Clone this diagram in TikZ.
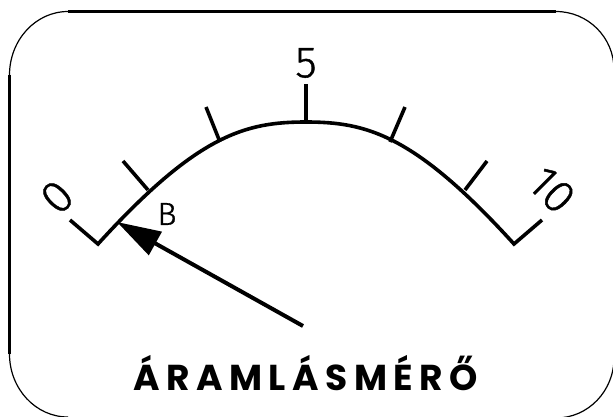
\documentclass[tikz,border=0pt]{standalone}
\usepackage{fontspec}
\setmainfont[RawFeature={embolden=0.9}]{Fira Sans Light}
\newfontfamily\titlefont[LetterSpace=18]{Poppins Bold}
\usetikzlibrary{arrows.meta}

\begin{document}
\begin{tikzpicture}[x=1pt, y=-1pt,
        frame/.style = {line width=3pt},
        corner/.style = {line width=1.2pt},
        scaleline/.style = {line width=3.6pt},
        tick/.style = {line width=3.6pt},
        digit/.style = {inner sep=0pt, font=\fontsize{#1}{#1}\selectfont},
        pointer/.style = {line width=4pt, -{Triangle[length=44pt, width=26pt]}}]
    \useasboundingbox (0,0) rectangle (613,416);

    % frame
    \draw[frame] (9.5,75) -- (9.5,354);
    \draw[frame] (68,11.5) -- (556,11.5);
    \draw[corner] (9.5,75) arc[start angle=180, end angle=270, x radius=58.5, y radius=63.5];
    \draw[corner] (556,11.5) arc[start angle=-90, end angle=0, x radius=58, y radius=58];
    \draw[corner] (9.5,354) arc[start angle=180, end angle=90, x radius=58.5, y radius=63];
    \draw[corner] (614,358) arc[start angle=0, end angle=90, x radius=58, y radius=60];

    % scale
    \coordinate (L) at (98,244);
    \coordinate (M) at (306,122);
    \coordinate (R) at (514,244);
    \coordinate (LS) at (70,220);
    \coordinate (RS) at (542,220);
    \draw[scaleline, line join=miter] (LS) -- (L) .. controls (198,134) and (246,122) .. (M)
        .. controls (366,122) and (414,134) .. (R) -- (RS);

    % ticks
    \draw[tick] (148,190) -- (123,161);
    \draw[tick] (220,142) -- (206,107);
    \draw[tick] (M) -- (306,84);
    \draw[tick] (390,142) -- (405,107);
    \draw[tick] (465,190) -- (487,161);

    % labels
    \node[digit=46] (zero) at (57,197) [rotate=45] {0};
    \node[digit=44] (five) at (306,63) {5};
    \node[digit=46] (ten) at (552,190) [rotate=-45] {10};
    \node[digit=32] (B) at (167,214) {B};

    % pointer
    \coordinate (base) at (303,326);
    \coordinate (tip) at (117,222);
    \draw[pointer] (base) -- (tip);

    \node[inner sep=0pt, font=\titlefont\fontsize{36}{36}\selectfont] (title) at (305.5,373) {ÁRAMLÁSMÉRŐ};
\end{tikzpicture}
\end{document}
